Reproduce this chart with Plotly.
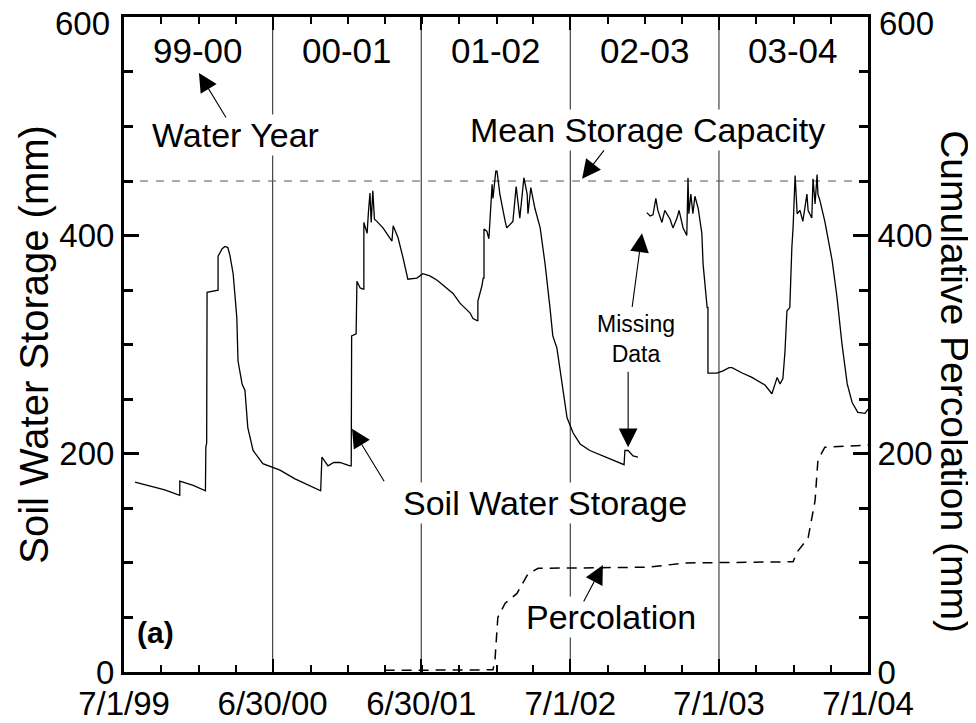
import plotly.graph_objects as go
import pandas as pd

START = "1999-07-01"

# Soil water storage (mm) vs days since 7/1/99 (None = missing data gap)
storage_day = [27, 60, 100, 137, 137, 170, 200, 201, 203, 204, 231, 231, 241, 248, 255, 260,
               268, 277, 280, 290, 297, 304, 317, 341, 363, 383, 420, 481, 483, 486, 501, 515,
               530, 555, 558, 559, 570, 572, 580, 587, 589, 589, 597, 600, 604, 607, 611, 615,
               621, 636, 653, 658, 661, 673, 685, 697, 719, 734, 751, 769, 808, 825, 850, 857,
               867, 869, 869, 879, 882, 884, 884, 891, 896, 899, 904, 906, 913, 916, 923, 936,
               940, 955, 963, 972, 982, 990, 992, 999, 1009, 1022, 1034, 1046, 1053, 1063, 1076,
               1088, 1103, 1120, 1144, 1176, 1223, 1228, 1230, 1238, 1250, 1262, None,
               1284, 1292, 1299, 1306, 1311, 1321, 1328, 1341, 1348, 1358, 1363, 1373, 1382,
               1385, 1387, 1392, 1397, 1402, 1410, 1419, 1422, 1429, 1432, 1434, 1434, 1456,
               1471, 1486, 1493, 1518, 1542, 1574, 1591, 1604, 1611, 1618, 1623, 1628, 1635,
               1640, 1643, 1648, 1653, 1660, 1667, 1677, 1680, 1689, 1692, 1697, 1702, 1704,
               1709, 1721, 1739, 1751, 1763, 1776, 1788, 1802, 1820, 1827]
storage_mm = [174, 171, 167, 162, 175, 171, 166, 206, 210, 348, 350, 381, 388, 390, 389, 382,
              365, 325, 285, 264, 258, 224, 203, 191, 188, 185, 177, 166, 166, 197, 189, 192,
              192, 189, 189, 308, 310, 358, 352, 351, 351, 412, 402, 420, 439, 412, 441, 415,
              413, 407, 397, 395, 409, 398, 380, 360, 361, 365, 363, 359, 347, 338, 329, 324,
              322, 322, 340, 354, 361, 361, 406, 404, 397, 420, 447, 434, 459, 459, 438, 413,
              407, 413, 445, 416, 453, 438, 420, 444, 425, 407, 374, 334, 308, 297, 264,
              233, 219, 209, 203, 198, 191, 190, 203, 203, 198, 197, None,
              421, 418, 419, 434, 423, 412, 423, 415, 407, 416, 423, 407, 400,
              453, 420, 438, 420, 436, 425, 402, 374, 343, 334, 334, 274, 274,
              276, 279, 279, 274, 270, 263, 255, 270, 264, 269, 293, 331, 334,
              389, 407, 455, 420, 423, 413, 438, 423, 416, 452, 429, 456, 438,
              432, 413, 377, 343, 301, 264, 247, 238, 237, 241]

# Cumulative percolation (mm)
perc_day = [640, 906, 911, 918, 936, 965, 992, 1017, 1284, 1382, 1643, 1653, 1680, 1697, 1704, 1721, 1827]
perc_mm = [1.5, 2, 11, 50, 63, 72, 90, 95, 96, 100, 101, 110, 123, 157, 194, 206, 208]

capacity_mm = 450

wy_bounds = ["1999-07-01", "2000-06-30", "2001-06-30", "2002-07-01", "2003-07-01", "2004-07-01"]
wy_tick_text = ["7/1/99", "6/30/00", "6/30/01", "7/1/02", "7/1/03", "7/1/04"]
wy_labels = ["99-00", "00-01", "01-02", "02-03", "03-04"]
y_ticks = [0, 200, 400, 600]
y_tick_text = ["0", "200", "400", ""]   # the top label "600" is placed as an annotation
y_top_label = "600"

t0 = pd.Timestamp(START)


def to_date(days):
    return [None if d is None else t0 + pd.Timedelta(days=d) for d in days]


FONT = "Liberation Sans, Arial, Helvetica, sans-serif"

fig = go.Figure()

fig.add_trace(go.Scatter(x=[wy_bounds[0], wy_bounds[-1]], y=[capacity_mm, capacity_mm],
                         mode="lines", line=dict(color="#555555", width=1.2, dash="8px,8px"),
                         hoverinfo="skip"))
fig.add_trace(go.Scatter(x=to_date(storage_day), y=storage_mm, mode="lines",
                         line=dict(color="black", width=1.3), connectgaps=False))
fig.add_trace(go.Scatter(x=to_date(perc_day), y=perc_mm, mode="lines", yaxis="y2",
                         line=dict(color="black", width=1.5, dash="10px,7px")))

for b in wy_bounds[1:-1]:
    fig.add_shape(type="line", xref="x", yref="paper", x0=b, x1=b, y0=0, y1=1,
                  line=dict(color="#444444", width=1.2), layer="below")

ann = []
bts = [pd.Timestamp(b) for b in wy_bounds]
for i, lab in enumerate(wy_labels):
    mid = bts[i] + (bts[i + 1] - bts[i]) / 2
    ann.append(dict(x=mid, y=0.949, xref="x", yref="paper", text=lab, showarrow=False,
                    font=dict(size=35), xanchor="center", yanchor="middle"))


def txt(x, y, s, size=34):
    return dict(x=x, y=y, xref="paper", yref="paper", text=s,
                showarrow=False, font=dict(size=size), bgcolor="white", xanchor="center",
                yanchor="middle")


ann.append(txt(0.1505, 0.820, "Water Year"))
ann.append(txt(0.703, 0.827, "Mean Storage Capacity"))
ann.append(txt(0.688, 0.508, "Missing<br>Data", size=23))
ann.append(txt(0.566, 0.258, "Soil Water Storage"))
ann.append(txt(0.6546, 0.084, "Percolation"))
ann.append(dict(x=0.042, y=0.06, xref="paper", yref="paper", text="<b>(a)</b>",
                showarrow=False, font=dict(size=30), xanchor="center", yanchor="middle"))

# top "600" tick labels (sit slightly below the top of the frame)
ann.append(dict(x=-0.016, y=0.990, xref="paper", yref="paper", text=y_top_label,
                showarrow=False, font=dict(size=33), xanchor="right", yanchor="middle"))
ann.append(dict(x=1.012, y=0.990, xref="paper", yref="paper", text=y_top_label,
                showarrow=False, font=dict(size=33), xanchor="left", yanchor="middle"))

# axis titles
ann.append(dict(x=-0.122, y=0.5, xref="paper", yref="paper", text="Soil Water Storage (mm)",
                showarrow=False, textangle=-90, font=dict(size=40),
                xanchor="center", yanchor="middle"))
ann.append(dict(x=1.117, y=0.444, xref="paper", yref="paper", text="Cumulative Percolation (mm)",
                showarrow=False, textangle=90, font=dict(size=39),
                xanchor="center", yanchor="middle"))


def arrow(day, val, ax, ay, yref="y"):
    return dict(x=t0 + pd.Timedelta(days=day), y=val, xref="x", yref=yref, text="",
                showarrow=True, arrowhead=2, arrowsize=3.4, arrowwidth=1.1,
                arrowcolor="black", ax=ax, ay=ay)


ann.append(arrow(184, 549, 28, 46))
ann.append(arrow(1125, 452, 23, -30))
ann.append(arrow(1272, 402, -10, 75))
ann.append(arrow(1238, 206, 0, -77))
ann.append(arrow(560, 223, 33, 54))
ann.append(arrow(1176, 98, -20, 38, yref="y2"))

yax_common = dict(range=[0, 600.3], tickvals=y_ticks, ticktext=y_tick_text, ticks="inside",
                  ticklen=15, tickwidth=3, tickcolor="black", showline=True, linewidth=3,
                  linecolor="black", showgrid=False, zeroline=False, tickfont=dict(size=33),
                  automargin=False, ticklabeloverflow="allow",
                  minor=dict(ticks="inside", ticklen=9, tickwidth=3, dtick=50, tickcolor="black",
                             showgrid=False))

# the page body adds an 8px offset, so the figure is sized to fit the 976x723 window
fig.update_layout(
    width=968, height=715,
    margin=dict(l=116, r=108, t=9, b=51, autoexpand=False),
    paper_bgcolor="white", plot_bgcolor="white",
    showlegend=False,
    font=dict(family=FONT, size=33, color="black"),
    annotations=ann,
    xaxis=dict(type="date", range=[wy_bounds[0], wy_bounds[-1]], tickvals=wy_bounds,
               ticktext=wy_tick_text, ticks="inside", ticklen=13, tickwidth=2,
               tickcolor="black", showline=True, linewidth=3, linecolor="black",
               mirror="ticks", showgrid=False, zeroline=False, tickfont=dict(size=33),
               automargin=False, ticklabelstandoff=0, ticklabeloverflow="allow",
               minor=dict(ticks="inside", ticklen=7, tickwidth=2, dtick="M3", tick0=START,
                          tickcolor="black", showgrid=False)),
    yaxis=dict(**yax_common),
    yaxis2=dict(**yax_common, overlaying="y", side="right"),
)

fig.write_html("out.html")
